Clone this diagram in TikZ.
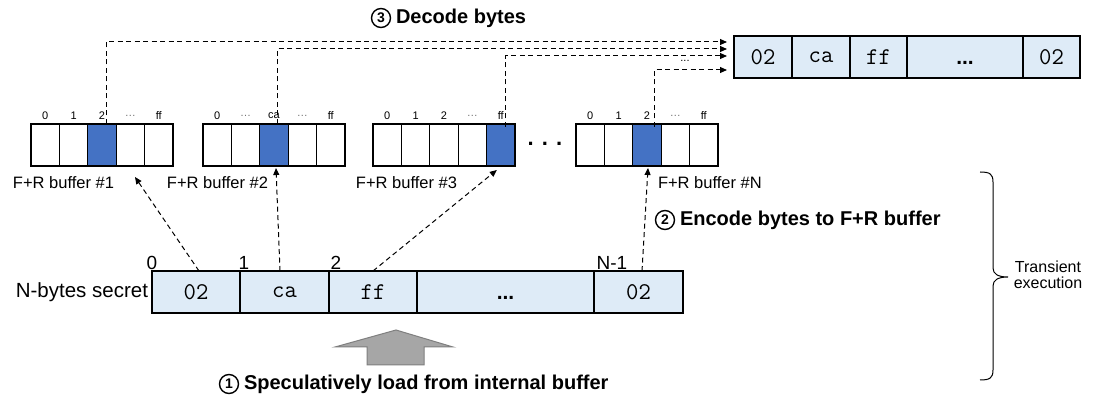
\documentclass[tikz,border=0pt]{standalone}
\usepackage{fontspec}
\setmainfont{Liberation Sans}
\usetikzlibrary{arrows.meta,calc}
\definecolor{hitblue}{HTML}{4472C4}
\definecolor{seclight}{HTML}{DEEBF7}
\definecolor{loadgray}{HTML}{A6A6A6}
\definecolor{loadedge}{HTML}{7F7F7F}
\begin{document}
\begin{tikzpicture}[x=1pt,y=-1pt,
  every node/.style={inner sep=0pt,outer sep=0pt},
  frcell/.style={draw=black,line width=1.2pt,minimum width=28.4pt,minimum height=42pt,anchor=north west},
  cell0/.style={fill=white},
  cell1/.style={fill=hitblue},
  seccell/.style={draw=black,line width=1.2pt,fill=seclight,minimum height=42pt,anchor=north west,
    font=\fontsize{24}{24}\selectfont\ttfamily},
  dotsfont/.style={font=\fontsize{21}{21}\selectfont\bfseries,text height=16pt,text depth=0pt},
  idx/.style={font=\fontsize{11}{12}\selectfont},
  faint/.style={idx,text=black!55},
  lbl/.style={font=\fontsize{16.5}{18}\selectfont},
  seclbl/.style={font=\fontsize{19}{20}\selectfont,anchor=base},
  flow/.style={line width=1pt,dash pattern=on 5pt off 3.5pt,-{Triangle[length=7pt,width=6pt]}},
  stepnum/.style={circle,draw=black,line width=1.4pt,minimum size=19pt,
    font=\fontsize{14}{14}\selectfont\bfseries},
  steptext/.style={anchor=west,font=\fontsize{20}{22}\selectfont\bfseries},
]
\fill[white] (0,0) rectangle (1093,403);
\useasboundingbox (0,0) rectangle (1093,403);

% Flush+Reload probe buffers, one hit cell each
\foreach \k/\xl/\h in {1/31/2,2/203/2,3/373/4,4/576/2}{
  \foreach \i in {0,...,4}{
    \pgfmathtruncatemacro\ish{\i==\h ? 1 : 0}
    \node[frcell,cell\ish] (b\k c\i) at (\xl+\i*28.4,124) {};
  }
}
% index labels above the probe cells
\foreach \k in {1,2,3,4}{
  \node[idx] at ([yshift=8pt]b\k c0.north) {0};
  \node[idx] at ([yshift=8pt]b\k c4.north) {ff};
}
\foreach \k in {1,3,4}{
  \node[idx] at ([yshift=8pt]b\k c1.north) {1};
  \node[idx] at ([yshift=8pt]b\k c2.north) {2};
  \node[faint] at ([yshift=8pt]b\k c3.north) {…};
}
\node[faint] at ([yshift=8pt]b2c1.north) {…};
\node[idx]   at ([yshift=8pt]b2c2.north) {ca};
\node[faint] at ([yshift=8pt]b2c3.north) {…};

\node[lbl,anchor=east] (l1) at (114,183) {F+R buffer \#1};
\node[lbl,anchor=east] (l2) at (268,183) {F+R buffer \#2};
\node[lbl,anchor=east] (l3) at (457,183) {F+R buffer \#3};
\node[lbl,anchor=west] (l4) at (658,183) {F+R buffer \#N};
\node[font=\fontsize{22}{22}\selectfont\bfseries] (gap) at (545,144) {. . .};

% recovered bytes
\node[seccell,minimum width=58pt] (r0) at (734,36) {02};
\node[seccell,minimum width=58pt] (r1) at (r0.north east) {ca};
\node[seccell,minimum width=57pt] (r2) at (r1.north east) {ff};
\node[seccell,minimum width=116pt,dotsfont] (r3) at (r2.north east) {...};
\node[seccell,minimum width=57pt] (r4) at (r3.north east) {02};

% secret in the internal buffer
\node[seccell,minimum width=88pt] (s0) at (152,271) {02};
\node[seccell,minimum width=89pt] (s1) at (s0.north east) {ca};
\node[seccell,minimum width=88pt] (s2) at (s1.north east) {ff};
\node[seccell,minimum width=177pt,dotsfont] (s3) at (s2.north east) {...};
\node[seccell,minimum width=89pt] (s4) at (s3.north east) {02};
\node[lbl,font=\fontsize{20.5}{22}\selectfont,anchor=east] (secname) at (148,292) {N-bytes secret};
\node[seclbl] at (152,269.5) {0};
\node[seclbl] at (244,269.5) {1};
\node[seclbl] at (336,269.5) {2};
\node[seclbl] at (612,269.5) {N-1};

% step 2: encode each byte into its probe buffer
\draw[flow] ([xshift=3pt]s0.north) -- ([xshift=4.6pt,yshift=-11pt]b1c3.south);
\draw[flow] ([xshift=-4.5pt]s1.north) -- ([xshift=2pt,yshift=-2pt]b2c2.south);
\draw[flow] (s2.north) -- ([xshift=-4pt,yshift=-4pt]b3c4.south);
\draw[flow] ([xshift=3.5pt]s4.north) -- ([xshift=1pt,yshift=-2pt]b4c2.south);

% step 3: decode the hit cells back into bytes
\draw[flow] ([xshift=4pt]b1c2.north) |- ([xshift=-7pt,yshift=15pt]r0.west);
\draw[flow] ([xshift=3pt]b2c2.north) |- ([xshift=-7pt,yshift=8pt]r0.west);
\draw[flow] ([xshift=5pt,yshift=-3pt]b3c4.north) |- ([xshift=-7pt,yshift=1pt]r0.west);
\draw[flow] ([xshift=7pt,yshift=-3pt]b4c2.north) |- ([xshift=-7pt,yshift=-13pt]r0.west);
\node[idx] (moredots) at (685,61) {...};

% step 1: speculative load
\draw[fill=loadgray,draw=loadedge,line width=1pt]
  (396,330) -- (453,347) -- (424,347) -- (424,365) -- (367,365) -- (367,347) -- (335,347) -- cycle;

\node[stepnum] (n1) at (229,384) {1};
\node[steptext] (t1) at (244,384) {Speculatively load from internal buffer};
\node[stepnum] (n2) at (665,220) {2};
\node[steptext] (t2) at (680,220) {Encode bytes to F+R buffer};
\node[stepnum] (n3) at (381,18) {3};
\node[steptext] (t3) at (396,18) {Decode bytes};

% transient window
\draw[line width=1pt]
  (980,172) .. controls (990,172) and (993,174) .. (993,182) -- (993,268)
  .. controls (993,274) and (998,277) .. (1008,277)
  .. controls (998,277) and (993,280) .. (993,286) -- (993,370)
  .. controls (993,378) and (990,380) .. (980,380);
\node[lbl,font=\fontsize{16}{16.5}\selectfont,align=center] (trans) at (1048,275) {Transient\\execution};
\end{tikzpicture}
\end{document}
